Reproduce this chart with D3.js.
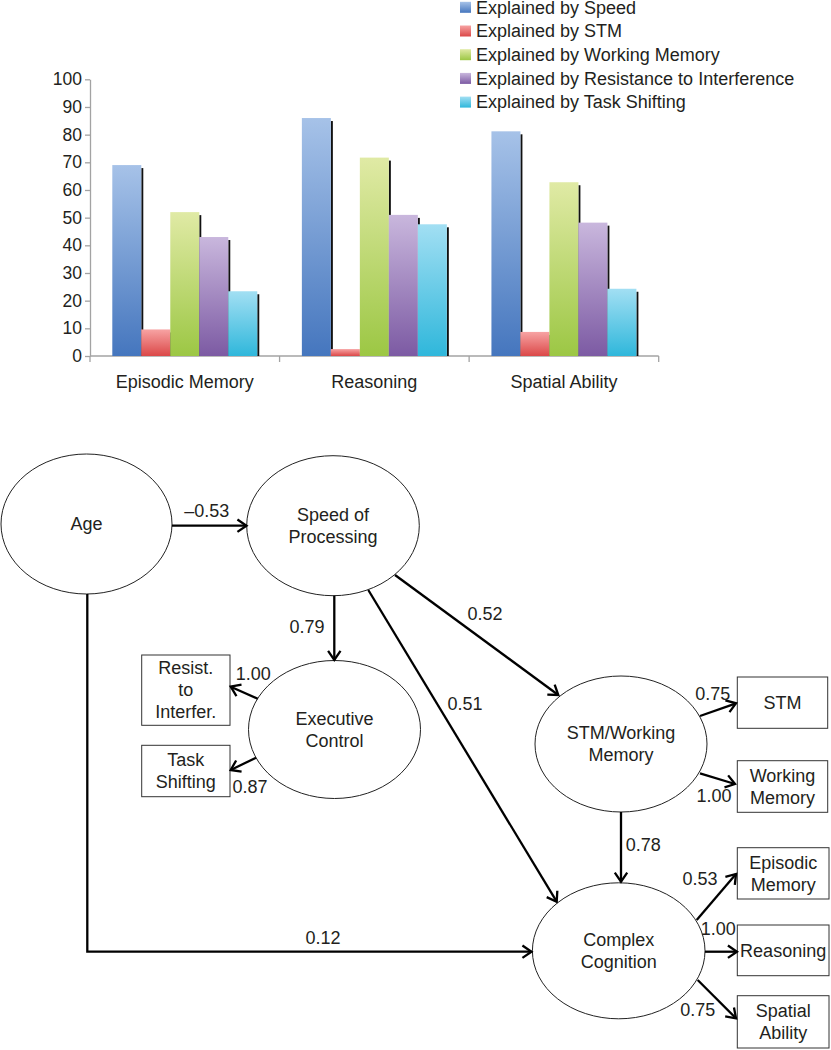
<!DOCTYPE html>
<html>
<head>
<meta charset="utf-8">
<script src="https://cdn.jsdelivr.net/npm/d3@7"></script>
<style>
  html, body { margin: 0; padding: 0; background: #fff; }
  svg { display: block; }
  text { font-family: "Liberation Sans", Arial, Helvetica, sans-serif; fill: #231f20; }
</style>
</head>
<body>
<svg id="chart" width="831" height="1050"></svg>
<script>
// ---------- DATA ----------
const categories = ["Episodic Memory", "Reasoning", "Spatial Ability"];
const seriesNames = [
  "Explained by Speed",
  "Explained by STM",
  "Explained by Working Memory",
  "Explained by Resistance to Interference",
  "Explained by Task Shifting"
];
const speedValues = [69, 86, 81.2];
const stmValues = [9.6, 2.5, 8.7];
const wmValues = [52, 71.7, 62.8];
const riValues = [43, 51, 48.2];
const tsValues = [23.4, 47.6, 24.3];
const yTicks = [0, 10, 20, 30, 40, 50, 60, 70, 80, 90, 100];

// diagram content
const nodeLabels = {
  age: ["Age"], speed: ["Speed of", "Processing"], exec: ["Executive", "Control"],
  stmwm: ["STM/Working", "Memory"], complex: ["Complex", "Cognition"],
  resist: ["Resist.", "to", "Interfer."], task: ["Task", "Shifting"],
  stm: ["STM"], wm: ["Working", "Memory"], epi: ["Episodic", "Memory"],
  reas: ["Reasoning"], spat: ["Spatial", "Ability"]
};
const pathCoefficients = {
  ageSpeed: "\u20130.53", ageComplex: "0.12", speedExec: "0.79", execResist: "1.00",
  execTask: "0.87", speedStm: "0.52", speedComplex: "0.51", stmStm: "0.75",
  stmWm: "1.00", stmComplex: "0.78", compEpi: "0.53", compReas: "1.00", compSpat: "0.75"
};

// ---------- STYLE ----------
const colors = [
  ["#a6c2e8", "#4576be"],
  ["#f7a3a3", "#db4848"],
  ["#e0eaa5", "#9cc744"],
  ["#c9b7dd", "#7c5aa3"],
  ["#a2dff3", "#2fb7db"]
];
const seriesValues = [speedValues, stmValues, wmValues, riValues, tsValues];

const svg = d3.select("#chart");
const defs = svg.append("defs");
colors.forEach((c, i) => {
  const g = defs.append("linearGradient").attr("id", "grad" + i)
    .attr("x1", 0).attr("y1", 0).attr("x2", 0).attr("y2", 1);
  g.append("stop").attr("offset", "0%").attr("stop-color", c[0]);
  g.append("stop").attr("offset", "100%").attr("stop-color", c[1]);
});

// ---------- BAR CHART ----------
const x0 = d3.scaleBand().domain(categories).range([90, 658.7]).paddingInner(0).paddingOuter(0);
const x1 = d3.scaleBand().domain(d3.range(seriesNames.length))
  .range([22.3, x0.bandwidth() - 22.3]).padding(0);
const y = d3.scaleLinear().domain([0, 100]).range([356, 79.3]);

const axisColor = "#a3a3a3";
const gy = svg.append("g").attr("transform", "translate(90,0)")
  .call(d3.axisLeft(y).tickValues(yTicks).tickSize(5).tickPadding(3).tickSizeOuter(0));
gy.select(".domain").attr("stroke", axisColor).attr("stroke-width", 1.3);
gy.selectAll(".tick line").attr("stroke", axisColor).attr("stroke-width", 1.3);
gy.selectAll(".tick text").style("font-size", "17.5px").attr("fill", "#231f20")
  .style("font-family", '"Liberation Sans", Arial, sans-serif');

// x axis
const gx = svg.append("g");
gx.append("line").attr("x1", x0.range()[0]).attr("x2", x0.range()[1])
  .attr("y1", y(0)).attr("y2", y(0)).attr("stroke", axisColor).attr("stroke-width", 1.3);
const boundaries = categories.map(c => x0(c)).concat([x0.range()[1]]);
gx.selectAll("line.tk").data(boundaries).join("line").attr("class", "tk")
  .attr("x1", d => d).attr("x2", d => d).attr("y1", y(0)).attr("y2", y(0) + 6)
  .attr("stroke", axisColor).attr("stroke-width", 1.3);
gx.selectAll("text").data(categories).join("text")
  .attr("x", d => x0(d) + x0.bandwidth() / 2).attr("y", 388)
  .attr("text-anchor", "middle").style("font-size", "18px").text(d => d);

// bars
const barData = [];
categories.forEach((c, ci) => seriesValues.forEach((vals, si) => barData.push({ c, si, v: vals[ci] })));
const bars = svg.append("g");
// shadows
bars.selectAll("rect.sh").data(barData).join("rect").attr("class", "sh")
  .attr("x", d => x0(d.c) + x1(d.si) + x1.bandwidth())
  .attr("y", d => y(d.v) + 3)
  .attr("width", 2)
  .attr("height", d => Math.max(0, y(0) - y(d.v) - 3))
  .attr("fill", "#111");
bars.selectAll("rect.bar").data(barData).join("rect").attr("class", "bar")
  .attr("x", d => x0(d.c) + x1(d.si))
  .attr("y", d => y(d.v))
  .attr("width", x1.bandwidth())
  .attr("height", d => y(0) - y(d.v))
  .attr("fill", d => `url(#grad${d.si})`);

// legend
const legend = svg.append("g");
seriesNames.forEach((n, i) => {
  const cy = 7.3 + i * 23.7;
  legend.append("rect").attr("x", 460).attr("y", cy - 5.5).attr("width", 11).attr("height", 11)
    .attr("fill", `url(#grad${i})`);
  legend.append("text").attr("x", 476).attr("y", cy + 6.3).style("font-size", "18px").text(n);
});

// ---------- PATH DIAGRAM ----------
const ellipses = [
  { id: "age", cx: 86.5, cy: 524, rx: 85.5, ry: 70 },
  { id: "speed", cx: 333, cy: 525.7, rx: 86.3, ry: 70 },
  { id: "exec", cx: 334.5, cy: 729.5, rx: 86, ry: 69 },
  { id: "stmwm", cx: 621, cy: 744, rx: 86, ry: 68 },
  { id: "complex", cx: 618.7, cy: 950.8, rx: 86.3, ry: 68 }
];
const boxes = [
  { id: "resist", x0: 141.7, x1: 230, y0: 655, y1: 725.3 },
  { id: "task", x0: 141.7, x1: 230, y0: 745.3, y1: 796.7 },
  { id: "stm", x0: 737.3, x1: 827.7, y0: 677, y1: 728.3 },
  { id: "wm", x0: 737.3, x1: 827.7, y0: 760.7, y1: 812.3 },
  { id: "epi", x0: 737.3, x1: 829, y0: 847.7, y1: 899 },
  { id: "reas", x0: 737.3, x1: 829, y0: 925, y1: 975.7 },
  { id: "spat", x0: 737.3, x1: 829, y0: 995.7, y1: 1048 }
];
const edges = [
  { k: "ageSpeed", pts: [[172, 525.7], [246.5, 525.7]], lx: 206.7, ly: 511 },
  { k: "ageComplex", pts: [[87.3, 594], [87.3, 951.7], [531.5, 951.7]], lx: 323, ly: 937.7 },
  { k: "speedExec", pts: [[334.3, 595.7], [334.3, 660]], lx: 307, ly: 626.7 },
  { k: "execResist", pts: [[257.7, 698.7], [230.7, 686.7]], lx: 253.3, ly: 673.3 },
  { k: "execTask", pts: [[256, 757.7], [230.7, 770]], lx: 250, ly: 786.7 },
  { k: "speedStm", pts: [[395, 575], [558.3, 695]], lx: 485, ly: 614 },
  { k: "speedComplex", pts: [[368.3, 590], [556.7, 901.7]], lx: 465, ly: 703.3 },
  { k: "stmStm", pts: [[700, 716], [736, 703.3]], lx: 712.7, ly: 693.3 },
  { k: "stmWm", pts: [[700, 773.3], [735, 784]], lx: 714, ly: 796 },
  { k: "stmComplex", pts: [[621, 812], [621, 881.7]], lx: 643.3, ly: 844.3 },
  { k: "compEpi", pts: [[696.7, 920], [736, 874]], lx: 700, ly: 878.3 },
  { k: "compReas", pts: [[705, 951.7], [737, 951.7]], lx: 718.3, ly: 928.3 },
  { k: "compSpat", pts: [[697.7, 980], [736, 1018.3]], lx: 697.7, ly: 1009.3 }
];

const dg = svg.append("g");
const lineGen = d3.line();

function multiText(g, lines, cx, cy) {
  const sp = 22;
  lines.forEach((t, i) => {
    const yy = cy + (i - (lines.length - 1) / 2) * sp;
    g.append("text").attr("x", cx).attr("y", yy + 6.3).attr("text-anchor", "middle")
      .style("font-size", "18px").text(t);
  });
}

ellipses.forEach(e => {
  dg.append("ellipse").attr("cx", e.cx).attr("cy", e.cy).attr("rx", e.rx).attr("ry", e.ry)
    .attr("fill", "none").attr("stroke", "#222").attr("stroke-width", 1);
  multiText(dg, nodeLabels[e.id], e.cx, e.cy);
});
boxes.forEach(b => {
  dg.append("rect").attr("x", b.x0).attr("y", b.y0).attr("width", b.x1 - b.x0).attr("height", b.y1 - b.y0)
    .attr("fill", "none").attr("stroke", "#333").attr("stroke-width", 1);
  multiText(dg, nodeLabels[b.id], (b.x0 + b.x1) / 2, (b.y0 + b.y1) / 2);
});

edges.forEach(e => {
  dg.append("path").attr("d", lineGen(e.pts)).attr("fill", "none")
    .attr("stroke", "#000").attr("stroke-width", 2.3).attr("stroke-linejoin", "miter");
  const p1 = e.pts[e.pts.length - 2], p2 = e.pts[e.pts.length - 1];
  const ang = Math.atan2(p2[1] - p1[1], p2[0] - p1[0]);
  const L = 11, a = 0.6;
  const h1 = [p2[0] - L * Math.cos(ang - a), p2[1] - L * Math.sin(ang - a)];
  const h2 = [p2[0] - L * Math.cos(ang + a), p2[1] - L * Math.sin(ang + a)];
  dg.append("path").attr("d", lineGen([h1, p2, h2])).attr("fill", "none")
    .attr("stroke", "#000").attr("stroke-width", 2.3).attr("stroke-linejoin", "miter");
  dg.append("text").attr("x", e.lx).attr("y", e.ly + 6.3).attr("text-anchor", "middle")
    .style("font-size", "18px").text(pathCoefficients[e.k]);
});
</script>
</body>
</html>
